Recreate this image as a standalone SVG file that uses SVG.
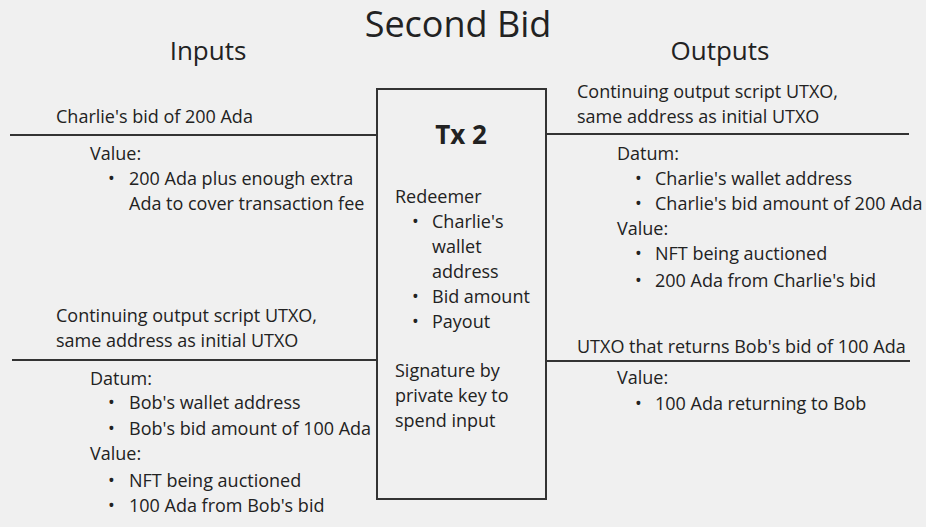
<svg xmlns="http://www.w3.org/2000/svg" width="926" height="527" viewBox="0 0 926 527">
<style>
text{font-family:"Open Sans","DejaVu Sans",sans-serif;fill:#222;}
.t{font-size:18px;}
.h{font-size:26px;text-anchor:middle;}
.ttl{font-size:36px;text-anchor:middle;}
.b{font-size:26px;font-weight:bold;text-anchor:middle;}
.ln{stroke:#333;stroke-width:2;fill:none;}
</style>
<rect width="926" height="527" fill="#f0f0f0"/>
<text class="ttl" x="458" y="37">Second Bid</text>
<text class="h" x="208" y="60">Inputs</text>
<text class="h" x="720" y="60">Outputs</text>
<g id="connectors">
<line class="ln" x1="10" y1="135" x2="377" y2="135"/>
<line class="ln" x1="547" y1="134" x2="909" y2="134"/>
<line class="ln" x1="12" y1="360" x2="377" y2="360"/>
<line class="ln" x1="547" y1="361" x2="910" y2="361"/>
</g>
<g id="tx2">
<rect class="ln" x="377" y="89" width="169" height="410"/>
<text class="b" x="461" y="144">Tx 2</text>
<text class="t" x="395" y="203">Redeemer</text>
<text class="t" x="412" y="228">•</text>
<text class="t" x="432" y="228">Charlie's</text>
<text class="t" x="432" y="253">wallet</text>
<text class="t" x="432" y="278">address</text>
<text class="t" x="412" y="303">•</text>
<text class="t" x="432" y="303">Bid amount</text>
<text class="t" x="412" y="328">•</text>
<text class="t" x="432" y="328">Payout</text>
<text class="t" x="395" y="377">Signature by</text>
<text class="t" x="395" y="402">private key to</text>
<text class="t" x="395" y="427">spend input</text>
</g>
<g id="input1">
<text class="t" x="56" y="123">Charlie's bid of 200 Ada</text>
<text class="t" x="90" y="160">Value:</text>
<text class="t" x="108" y="185">•</text>
<text class="t" x="129" y="185">200 Ada plus enough extra</text>
<text class="t" x="129" y="210">Ada to cover transaction fee</text>
</g>
<g id="input2">
<text class="t" x="56" y="322">Continuing output script UTXO,</text>
<text class="t" x="56" y="347">same address as initial UTXO</text>
<text class="t" x="90" y="385">Datum:</text>
<text class="t" x="108" y="409">•</text>
<text class="t" x="129" y="409">Bob's wallet address</text>
<text class="t" x="108" y="435">•</text>
<text class="t" x="129" y="435">Bob's bid amount of 100 Ada</text>
<text class="t" x="90" y="460">Value:</text>
<text class="t" x="108" y="487">•</text>
<text class="t" x="129" y="487">NFT being auctioned</text>
<text class="t" x="108" y="512">•</text>
<text class="t" x="129" y="512">100 Ada from Bob's bid</text>
</g>
<g id="output1">
<text class="t" x="577" y="98">Continuing output script UTXO,</text>
<text class="t" x="577" y="123">same address as initial UTXO</text>
<text class="t" x="617" y="160">Datum:</text>
<text class="t" x="635" y="185">•</text>
<text class="t" x="655" y="185">Charlie's wallet address</text>
<text class="t" x="635" y="210">•</text>
<text class="t" x="655" y="210">Charlie's bid amount of 200 Ada</text>
<text class="t" x="617" y="235">Value:</text>
<text class="t" x="635" y="260">•</text>
<text class="t" x="655" y="260">NFT being auctioned</text>
<text class="t" x="635" y="287">•</text>
<text class="t" x="655" y="287">200 Ada from Charlie's bid</text>
</g>
<g id="output2">
<text class="t" x="577" y="353">UTXO that returns Bob's bid of 100 Ada</text>
<text class="t" x="617" y="384">Value:</text>
<text class="t" x="635" y="410">•</text>
<text class="t" x="655" y="410">100 Ada returning to Bob</text>
</g>
</svg>
